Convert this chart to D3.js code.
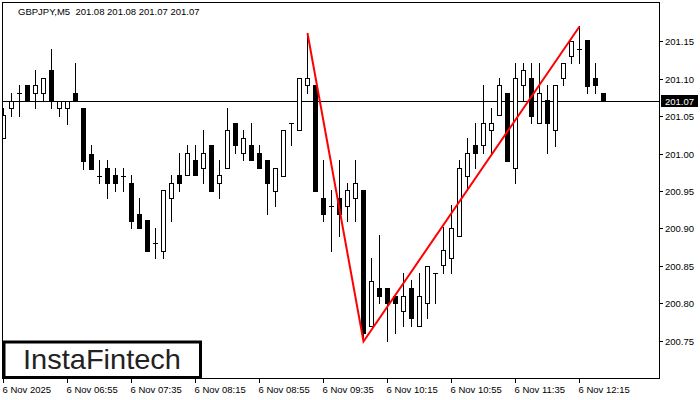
<!DOCTYPE html>
<html><head><meta charset="utf-8">
<script src="https://cdn.jsdelivr.net/npm/d3@7"></script>
<style>
body{margin:0;background:#fff}
svg{display:block}
text{font-family:"Liberation Sans",Arial,sans-serif}
</style>
</head><body>
<svg id="c" width="700" height="400"></svg>
<script>
// ---- data ----
const opens  = [201.021,201.061,201.081,201.091,201.081,201.081,201.111,201.061,201.061,201.081,
                201.061,200.999,200.970,200.981,200.971,200.970,200.961,200.920,200.911,200.881,
                200.870,200.941,200.971,200.971,200.991,200.981,201.011,200.960,200.981,201.041,
                201.001,201.011,201.001,200.991,200.950,200.970,201.041,201.031,201.091,201.091,
                200.941,200.930,200.941,200.930,200.941,200.951,200.770,200.821,200.821,200.810,
                200.790,200.821,200.770,200.801,200.841,200.851,200.861,200.890,200.970,201.011,
                201.011,201.031,201.051,201.081,200.981,201.091,201.101,201.041,201.071,201.031,
                201.101,201.130,201.140,201.151,201.101,201.081];
const highs  = [201.061,201.081,201.091,201.091,201.111,201.101,201.140,201.070,201.070,201.121,
                201.061,201.011,200.991,200.991,200.981,200.981,200.971,200.941,200.911,200.901,
                200.951,200.971,201.001,201.011,201.011,201.031,201.011,200.991,201.061,201.041,
                201.031,201.041,201.011,200.991,200.981,201.031,201.041,201.101,201.161,201.091,
                200.991,200.951,200.991,200.961,200.991,200.951,200.861,200.891,200.821,200.810,
                200.841,200.831,200.841,200.850,200.841,200.902,200.931,200.991,201.021,201.041,
                201.091,201.061,201.101,201.081,201.121,201.121,201.121,201.121,201.091,201.091,
                201.121,201.150,201.170,201.151,201.121,201.081];
const lows   = [201.021,201.050,201.050,201.070,201.061,201.070,201.061,201.050,201.040,201.070,
                200.980,200.980,200.960,200.941,200.950,200.950,200.901,200.901,200.870,200.861,
                200.861,200.910,200.950,200.971,200.971,200.960,200.950,200.941,200.981,201.001,
                200.991,200.991,200.981,200.920,200.930,200.970,201.011,201.031,201.081,200.950,
                200.910,200.870,200.890,200.910,200.910,200.751,200.770,200.800,200.750,200.761,
                200.770,200.770,200.770,200.781,200.801,200.841,200.841,200.890,200.954,200.981,
                201.001,201.001,201.051,200.990,200.961,201.071,201.041,201.041,201.001,201.010,
                201.091,201.121,201.121,201.081,201.081,201.070];
const closes = [201.051,201.070,201.081,201.070,201.091,201.101,201.070,201.070,201.070,201.070,
                200.990,200.980,200.970,200.960,200.960,200.970,200.910,200.901,200.870,200.881,
                200.951,200.961,200.960,201.001,200.971,201.001,200.950,200.971,201.031,201.011,
                201.021,200.991,200.981,200.960,200.981,201.031,201.041,201.101,201.101,200.950,
                200.920,200.930,200.920,200.951,200.961,200.761,200.830,200.810,200.800,200.801,
                200.810,200.781,200.810,200.850,200.841,200.871,200.901,200.981,201.001,201.001,
                201.041,201.041,201.091,200.990,201.101,201.111,201.050,201.081,201.041,201.091,
                201.121,201.150,201.140,201.090,201.091,201.071];
const xTickIdx    = [0,8,16,24,32,40,48,56,64,72];
const xTickLabels = ["6 Nov 2025","6 Nov 06:55","6 Nov 07:35","6 Nov 08:15","6 Nov 08:55",
                     "6 Nov 09:35","6 Nov 10:15","6 Nov 10:55","6 Nov 11:35","6 Nov 12:15"];
const yTicks      = [200.75,200.80,200.85,200.90,200.95,201.00,201.05,201.10,201.15];
const patternIdx   = [38,45,72];
const patternPrice = [201.161,200.750,201.170];
const lastPrice = 201.07;
const headerText = "GBPJPY,M5  201.08 201.08 201.07 201.07";
const logoText = "InstaFintech";

// ---- drawing ----
const svg = d3.select("#c");
const W = 700, H = 400;
const plotL = 2, plotT = 2, plotR = 659, plotB = 378;

const x = d3.scaleLinear().domain([0, 1]).range([3.5, 11.5]);
const y = d3.scaleLinear().domain([200.75, 201.15]).range([341.5, 41.5]);
const row = v => Math.floor(y(v));

svg.append("rect").attr("width", W).attr("height", H).attr("fill", "#fff");

svg.append("defs").append("clipPath").attr("id", "clip")
  .append("rect").attr("x", plotL).attr("y", plotT)
  .attr("width", plotR - plotL + 1).attr("height", plotB - plotT + 1);

const g = svg.append("g").attr("clip-path", "url(#clip)");

const candles = opens.map((o, i) => ({i, o, h: highs[i], l: lows[i], c: closes[i]}));

// current price line (behind candles)
g.append("line")
  .attr("x1", plotL).attr("x2", plotR + 1)
  .attr("y1", row(lastPrice) + 0.5).attr("y2", row(lastPrice) + 0.5)
  .attr("stroke", "#000").attr("stroke-width", 1);

// wicks
g.selectAll("line.wick").data(candles).join("line")
  .attr("class", "wick")
  .attr("x1", d => x(d.i)).attr("x2", d => x(d.i))
  .attr("y1", d => row(d.h)).attr("y2", d => row(d.l) + 1)
  .attr("stroke", "#000").attr("stroke-width", 1);

// bodies
g.selectAll("rect.body").data(candles).join("rect")
  .attr("class", "body")
  .each(function(d) {
    const top = row(Math.max(d.o, d.c)), bot = row(Math.min(d.o, d.c));
    const cx = Math.floor(x(d.i));
    const s = d3.select(this);
    if (bot - top < 1) {
      s.attr("x", cx - 2).attr("y", top).attr("width", 5).attr("height", 1).attr("fill", "#000");
    } else if (d.c > d.o) {
      s.attr("x", cx - 2 + 0.5).attr("y", top + 0.5).attr("width", 4).attr("height", bot - top)
       .attr("fill", "#fff").attr("stroke", "#000").attr("stroke-width", 1);
    } else {
      s.attr("x", cx - 2).attr("y", top).attr("width", 5).attr("height", bot - top + 1).attr("fill", "#000");
    }
  });

// pattern lines
const patternPts = patternIdx.map((v, k) => [x(v), y(patternPrice[k])]);
g.append("path")
  .attr("d", d3.line()(patternPts))
  .attr("fill", "none").attr("stroke", "#ff0000").attr("stroke-width", 2)
  .attr("stroke-linejoin", "miter");

// frame
svg.append("rect")
  .attr("x", plotL + 0.5).attr("y", plotT + 0.5)
  .attr("width", plotR - plotL).attr("height", plotB - plotT)
  .attr("fill", "none").attr("stroke", "#000").attr("stroke-width", 1);

// y axis
const yAx = svg.append("g");
yAx.selectAll("line").data(yTicks).join("line")
  .attr("x1", plotR + 0.5).attr("x2", plotR + 4)
  .attr("y1", d => row(d) + 0.5).attr("y2", d => row(d) + 0.5)
  .attr("stroke", "#000");
yAx.selectAll("text").data(yTicks).join("text")
  .attr("x", 665).attr("y", d => row(d) + 4)
  .attr("font-size", 9.5).attr("fill", "#000")
  .text(d => d3.format(".2f")(d));

// last price label
svg.append("rect")
  .attr("x", 661).attr("y", row(lastPrice) - 6).attr("width", 37).attr("height", 12)
  .attr("fill", "#000");
svg.append("text")
  .attr("x", 665).attr("y", row(lastPrice) + 4)
  .attr("font-size", 9.5).attr("fill", "#fff")
  .text(d3.format(".2f")(lastPrice));

// x axis
const xAx = svg.append("g");
xAx.selectAll("line").data(xTickIdx).join("line")
  .attr("x1", d => x(d)).attr("x2", d => x(d))
  .attr("y1", plotB + 1).attr("y2", plotB + 5)
  .attr("stroke", "#000");
xAx.selectAll("text").data(xTickIdx).join("text")
  .attr("x", d => x(d) - 1).attr("y", 393)
  .attr("font-size", 9.5).attr("fill", "#000")
  .text((d, k) => xTickLabels[k]);

// header
svg.append("text")
  .attr("x", 18).attr("y", 15)
  .attr("font-size", 9.5).attr("fill", "#000")
  .style("white-space", "pre")
  .text(headerText);

// logo
svg.append("rect")
  .attr("x", 4).attr("y", 342).attr("width", 196.5).attr("height", 35.5)
  .attr("fill", "#fff").attr("stroke", "#000").attr("stroke-width", 3);
svg.append("text")
  .attr("x", 102).attr("y", 369).attr("text-anchor", "middle")
  .attr("font-size", 28).attr("fill", "#222")
  .attr("textLength", 158).attr("lengthAdjust", "spacingAndGlyphs")
  .text(logoText);
</script>
</body></html>
